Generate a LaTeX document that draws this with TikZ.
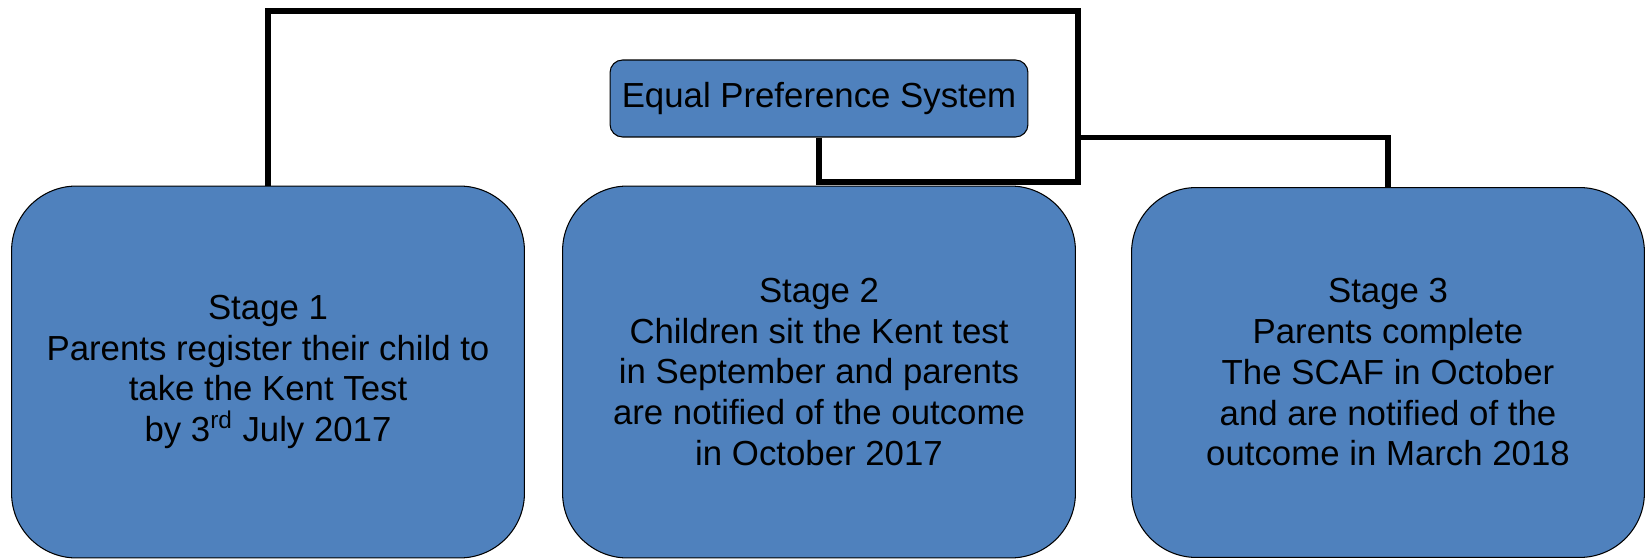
\documentclass[tikz,border=0pt]{standalone}
\usepackage{fontspec}
\setmainfont{Liberation Sans}
\definecolor{stageblue}{RGB}{79,129,189}
\begin{document}
\begin{tikzpicture}[x=0.02cm,y=-0.02cm]
        \tikzstyle{stage}=[draw=black,line width=0.6pt,fill=stageblue,rounded corners=1.3cm,minimum width=10.26cm,minimum height=7.44cm,inner sep=0pt,align=center,font=\fontsize{19.8}{23.2}\selectfont]
        \tikzstyle{head}=[draw=black,line width=0.6pt,fill=stageblue,rounded corners=0.25cm,minimum width=8.36cm,minimum height=1.54cm,inner sep=0pt,font=\fontsize{19.8}{23.2}\selectfont]
        \tikzstyle{link}=[line width=3.1pt]
        \useasboundingbox (0,0) rectangle (1650,560);
        \node[head] (eps) at (819,98.5) {Equal Preference System};
        \node[stage] (s1) at (268,372) {Stage 1\\Parents register their child to\\take the Kent Test\\by 3\textsuperscript{rd} July 2017};
        \node[stage] (s2) at (819,372) {Stage 2\\Children sit the Kent test\\in September and parents\\are notified of the outcome\\in October 2017};
        \node[stage, minimum height=7.4cm] (s3) at (1388,372.5) {Stage 3\\Parents complete\\The SCAF in October\\and are notified of the\\outcome in March 2018};
        \coordinate (elbow) at (1078,182);
        \coordinate (roof) at (700,11);
        \draw[link] (eps.south) |- (elbow) |- (roof) -| (s1.north);
        \draw[link] (elbow |- eps.south) -| (s3.north);
    \end{tikzpicture}
\end{document}
